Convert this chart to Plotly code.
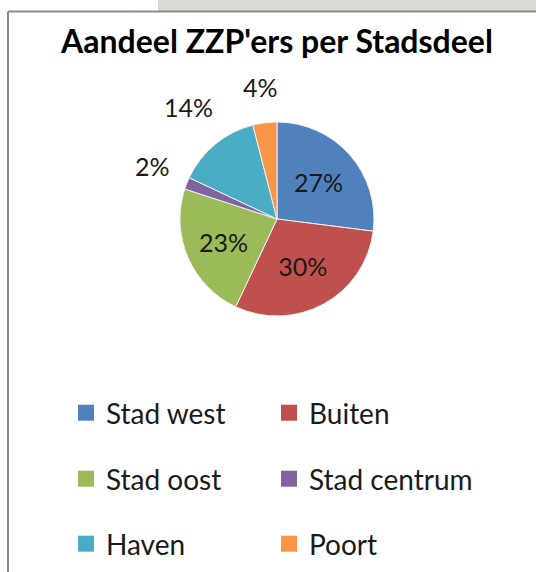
import math
import plotly.graph_objects as go

categories = ["Stad west", "Buiten", "Stad oost", "Stad centrum", "Haven", "Poort"]
values = [27, 30, 23, 2, 14, 4]
colors = ["#4F81BD", "#C0504D", "#9BBB59", "#8064A2", "#4BACC6", "#F79646"]
label_inside = [True, True, True, False, False, False]
title_text = "Aandeel ZZP'ers per Stadsdeel"

W, H = 536, 572
FONT = "Lato, 'Open Sans', sans-serif"
TXT = "#1a1a1a"

fig = go.Figure()

cx, cy, r = 277, 219, 97
fig.add_trace(go.Pie(
    labels=categories,
    values=values,
    sort=False,
    direction="clockwise",
    rotation=0,
    marker=dict(colors=colors, line=dict(color="#f0f0f0", width=1)),
    textposition=["inside" if v else "none" for v in label_inside],
    texttemplate="%{percent:.0%}",
    insidetextorientation="horizontal",
    textfont=dict(family=FONT, size=25, color=TXT),
    showlegend=False,
    hoverinfo="label+percent",
    domain=dict(x=[(cx - r) / W, (cx + r) / W], y=[(H - cy - r) / H, (H - cy + r) / H]),
))

# Outside labels for the small slices, placed at each slice's mid-angle
annotations = []
total = sum(values)
cum = 0.0
for v, inside in zip(values, label_inside):
    mid = (cum + v / 2) / total * 2 * math.pi
    cum += v
    if inside:
        continue
    s, c = math.sin(mid), math.cos(mid)
    txt = f"{round(100 * v / total)}%"
    hw, hh = 8 * len(txt), 12
    d = r + 18 + abs(hw * s) + abs(hh * c)
    px, py = cx + d * s, cy - d * c - 4
    annotations.append(dict(
        x=px / W, y=1 - py / H, xref="paper", yref="paper", text=txt,
        showarrow=False, xanchor="center", yanchor="middle",
        font=dict(family=FONT, size=25, color=TXT),
    ))

# Legend entries: two per row, three rows
legend_rows = [("legend", 1 - 413 / H), ("legend2", 1 - 479 / H), ("legend3", 1 - 544 / H)]
for i, (name, col) in enumerate(zip(categories, colors)):
    lg = legend_rows[i // 2][0]
    fig.add_trace(go.Scatter(
        x=[None], y=[None], mode="markers", name=name,
        marker=dict(symbol="square", size=16, color=col),
        legend=lg, showlegend=True, hoverinfo="skip",
    ))

legend_common = dict(
    orientation="h", x=66 / W, xanchor="left", yanchor="middle",
    entrywidth=158, entrywidthmode="pixels",
    font=dict(family=FONT, size=28, color=TXT),
    bgcolor="rgba(0,0,0,0)", itemclick=False, itemdoubleclick=False,
)

fig.update_layout(
    width=W, height=H,
    margin=dict(l=0, r=0, t=0, b=0),
    paper_bgcolor="white", plot_bgcolor="white",
    xaxis=dict(visible=False, range=[0, 1], domain=[0, 1]),
    yaxis=dict(visible=False, range=[0, 1], domain=[0, 1]),
    title=dict(text="<b>" + title_text + "</b>", x=277 / W, xanchor="center",
               y=1 - 42 / H, yanchor="middle",
               font=dict(family=FONT, size=32, color="#000000")),
    annotations=annotations,
    legend=dict(y=legend_rows[0][1], **legend_common),
    legend2=dict(y=legend_rows[1][1], **legend_common),
    legend3=dict(y=legend_rows[2][1], **legend_common),
    shapes=[
        dict(type="rect", xref="paper", yref="paper", x0=158 / W, x1=1, y0=1 - 11 / H, y1=1,
             fillcolor="#dcd9d3", line=dict(width=0), layer="below"),
        dict(type="line", xref="paper", yref="paper", x0=8 / W, x1=1, y0=1 - 11.5 / H, y1=1 - 11.5 / H,
             line=dict(color="#8a8a8a", width=2)),
        dict(type="line", xref="paper", yref="paper", x0=8 / W, x1=8 / W, y0=0, y1=1 - 11.5 / H,
             line=dict(color="#8a8a8a", width=2)),
    ],
)

fig.write_html(
    "out.html",
    config={"displayModeBar": False},
    post_script="document.body.style.margin='0';document.body.style.overflow='hidden';",
)
